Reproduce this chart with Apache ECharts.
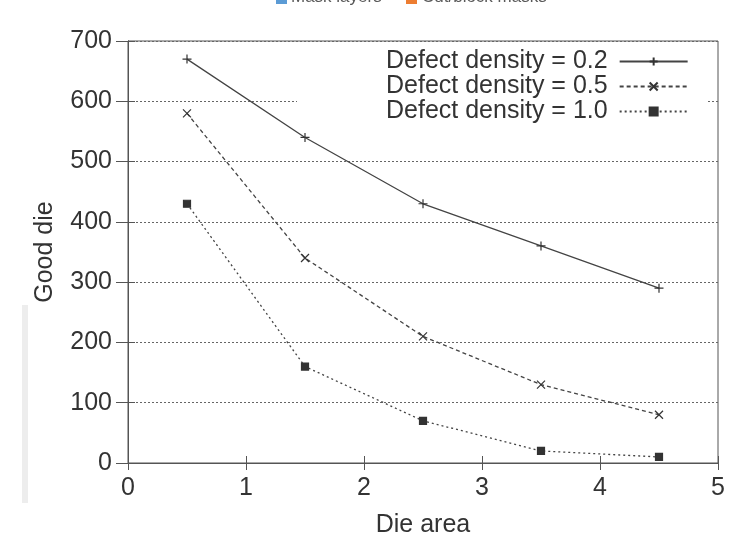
<!DOCTYPE html>
<html>
<head>
<meta charset="utf-8">
<script src="https://cdn.jsdelivr.net/npm/echarts@6/dist/echarts.min.js"></script>
<style>
  html, body { margin: 0; padding: 0; background: #fff; }
  #chart { width: 732px; height: 543px; }
</style>
</head>
<body>
<div id="chart"></div>
<script>
// die area on x, good die count on y
const dieArea = [0.5, 1.5, 2.5, 3.5, 4.5]
const good02 = [670, 540, 430, 360, 290]
const good05 = [580, 340, 210, 130, 80]
const good10 = [430, 160, 70, 20, 10]
const seriesNames = ['Defect density = 0.2', 'Defect density = 0.5', 'Defect density = 1.0']
// clipped legend of another chart at the very top
const topLegend = ['Mask layers', 'Cut/block masks']

const font = "'Liberation Sans', Arial, sans-serif"
const ink = '#333'
const lineInk = '#444'

const pairs = (ys) => dieArea.map((x, i) => [x, ys[i]])

const chart = echarts.init(document.getElementById('chart'))

const mkSeries = (name, ys, symbol, size, type) => ({
  name: name,
  type: 'line',
  data: pairs(ys),
  symbol: symbol,
  symbolSize: size,
  showSymbol: true,
  lineStyle: { color: lineInk, width: 1.3, type: type },
  itemStyle: { color: '#333', borderColor: '#333', borderWidth: 1.2 },
  emphasis: { disabled: true },
  z: 3,
})

chart.setOption({
  animation: false,
  backgroundColor: '#fff',
  textStyle: { fontFamily: font },
  grid: {
    left: 128, right: 14, top: 41, bottom: 75,
    show: true, borderColor: '#555', borderWidth: 1,
  },
  legend: {
    orient: 'vertical',
    left: 297,
    top: 48,
    padding: [1, 18, 6, 89],
    backgroundColor: '#fff',
    align: 'right',
    itemGap: 0,
    itemWidth: 68,
    itemHeight: 10,
    textStyle: { fontFamily: font, fontSize: 25, color: ink, lineHeight: 24, padding: [0, 7, 0, 0] },
    data: seriesNames,
  },
  xAxis: [
    {
      type: 'value', min: 0, max: 5, interval: 1,
      name: 'Die area', nameLocation: 'middle', nameGap: 50,
      nameTextStyle: { fontFamily: font, fontSize: 25, color: ink },
      axisLine: { show: true, lineStyle: { color: '#555' } },
      axisTick: { show: true, inside: true, length: 7, lineStyle: { color: '#555' } },
      axisLabel: { fontFamily: font, fontSize: 25, color: ink, margin: 13 },
      splitLine: { show: false },
    },
    {
      type: 'value', min: 0, max: 5, interval: 1, position: 'top',
      axisLine: { show: true, lineStyle: { color: '#555' } },
      axisTick: { show: true, inside: true, length: 7, lineStyle: { color: '#555' } },
      axisLabel: { show: false },
      splitLine: { show: false },
    },
  ],
  yAxis: [
    {
      type: 'value', min: 0, max: 700, interval: 100,
      name: 'Good die', nameLocation: 'middle', nameGap: 70,
      nameTextStyle: { fontFamily: font, fontSize: 25, color: ink },
      axisLine: { show: true, lineStyle: { color: '#555' } },
      axisTick: { show: true, inside: true, length: 7, lineStyle: { color: '#555' } },
      axisLabel: { fontFamily: font, fontSize: 25, color: ink, margin: 16 },
      splitLine: { show: true, lineStyle: { color: '#666', type: [2, 2], width: 1 } },
    },
    {
      type: 'value', min: 0, max: 700, interval: 100, position: 'right',
      axisLine: { show: true, lineStyle: { color: '#555' } },
      axisTick: { show: true, inside: true, length: 12, lineStyle: { color: '#555' } },
      axisLabel: { show: false },
      splitLine: { show: false },
    },
  ],
  series: [
    mkSeries(seriesNames[0], good02, 'path://M5,0L5,10M0,5L10,5', 9, 'solid'),
    mkSeries(seriesNames[1], good05, 'path://M0,0L10,10M10,0L0,10', 8, [4, 3]),
    mkSeries(seriesNames[2], good10, 'rect', 7, [2, 3]),
  ],
  graphic: [
    { type: 'rect', shape: { x: 22, y: 305, width: 6, height: 198 }, style: { fill: '#ededed' }, silent: true },
    { type: 'rect', shape: { x: 276, y: -6, width: 11, height: 10 }, style: { fill: '#5b9bd5' }, silent: true },
    { type: 'text', x: 291, y: -3, style: { text: topLegend[0], font: "17px 'Liberation Sans', Arial", fill: '#595959', textVerticalAlign: 'middle' }, silent: true },
    { type: 'rect', shape: { x: 406, y: -6, width: 11, height: 10 }, style: { fill: '#ed7d31' }, silent: true },
    { type: 'text', x: 422, y: -3, style: { text: topLegend[1], font: "17px 'Liberation Sans', Arial", fill: '#595959', textVerticalAlign: 'middle' }, silent: true },
  ],
})
</script>
</body>
</html>
